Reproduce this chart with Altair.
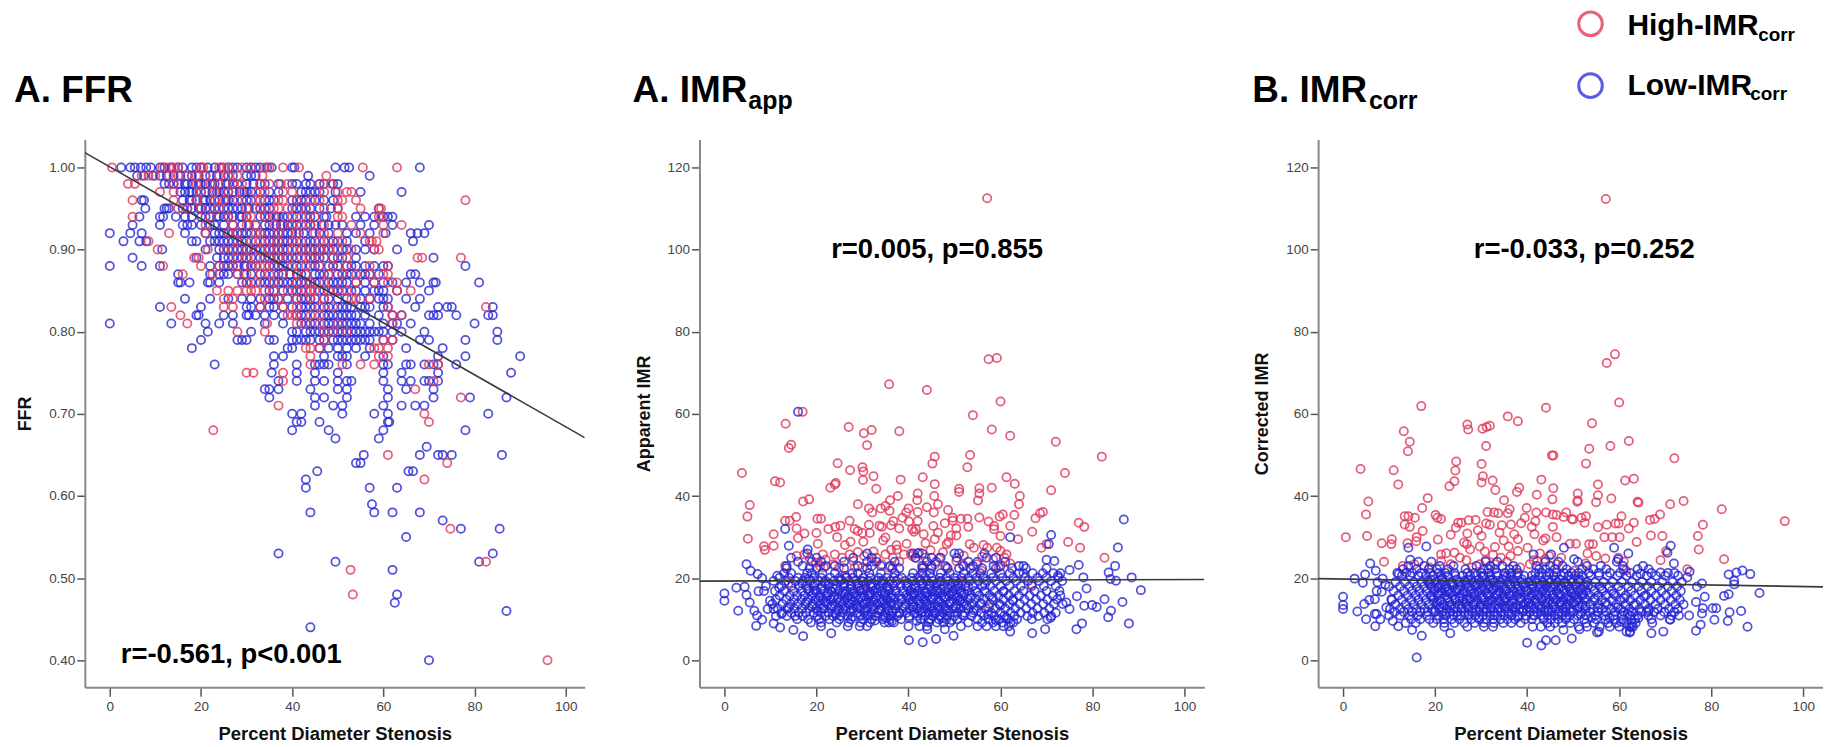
import altair as alt
import pandas as pd

RED = "#e0385a"
BLUE = "#2626d4"
FONT = "Liberation Sans"

# FFR panel: {FFR value: [percent diameter stenosis, ...]}
ffr_low = {
1.00:[2.5,4.5,5.5,6.8,8,9,11,12,13.5,15,16,18,19,20,21.5,23,24.5,26,27,28,30,31,32,33,34.5,35.5,40,40.5,49.5,51.5,52.5,68],
.99:[6,7.5,9.5,11,12.5,14,15.5,17,18,19.5,21,22,23.5,25,26,27,30,31,32,43.5,57],
.98:[12,13,15,16.5,18,19.5,21,22.5,24,25.5,27,28,30,31.5,33,34,37,40,41,43,44,46,47,49,50,14,17,20,23,26],
.97:[15.5,16.5,18,19,21,22.5,24,25,27,28.5,30,33,35,37,42,44,45,46,49.5,55,64,17.5,20,23.5,26,29.5,31,43],
.96:[7,7.5,16,17.5,19,20.5,22,24,25.5,27,29,31,34,36,40,41,43,45,47,49,18,21,23,26,30,35,42],
.95:[7.8,12,12.5,13,16,18,19.5,21,23,25,27,29,30.5,32,34,35,40,41,42,44,46,48.5,50,59,17,20,22,24,26,28,33,43],
.94:[6.5,11,11.7,14.5,16.5,18,20,21,22,23.5,25,27,28.5,30,33,35,36.5,38,41,43,45,47,47.5,54,56,58,60,61,62,24,26,29,34,37,39,44],
.93:[5,11,16,18,20,23,25,29,32,35,36.5,38,39,41,43,45,48,49.5,51,55,58,62,70,17,22,27,30.5,34,37.5,40,44,46.5],
.92:[0,4.5,7,16.5,21,23,25,27,28,30,31,34,36,38,40,42.5,44.5,46,48,52,54,57,60.5,66,67.5,69,24,26,29,33,35,37,39,41.5],
.91:[3,6.5,8,18,19,22,24,26,28,30,32,36,38,40,43,45,49,50,52,56,66.5,23,25,27,29,34,35,37,39,41,44,47],
.90:[11.5,21,24,26,28,30,32,34,36,38,41,43,45,47,49,51,52,54,56,58,63,25,27,29,31,33,35,37,39,42,44,46,48],
.89:[5,19,23.5,25,27,29,31,33,35,37,39,41,43,45,47,49,51,54,71,26,28,30,34,36,38,40,44,46,50],
.88:[0,7,11,22,24,26,28,29.5,31,35,37,39,42,44,46,48,50,52,54,56,58,60,61,78,25,27,30,32,36,38,41,45,49,53],
.87:[15,22,24,26,28,31,33,36,38,41,43,46,48,50,52,55,57,59,66,67,25,29.5,34,37,39.5,42,45,47,51,53,56],
.86:[15,15.5,17.5,21.5,22,24,29,31,33,34,36,38,40,42,44,46,48,50,52,54,56,58,60,62,65,68,71,71.5,81,30,35,37,39,41,43,45,49,51],
.85:[35,40,41,44,46,49,50,54,58,60,63,70,36,38,42,47,51,53,56,59],
.84:[16.5,22,26,29,31,33,35,37,39,41,43,45,47,50,59,60,61,65,68,36,42,44,48,52,55,57],
.83:[11,20,30,31,33,35,40,42,44,45,48,50,52,55,57,60,61,67,72,74,75,84,36,38,43,47,51,53,56],
.82:[19,19.5,25,27,30,30.5,32,34,36,38,42,43,48,50,52,54,56,59,62,64,70,71,72,76,83,84,41,45,47,49,51,53],
.81:[0,13.5,21,24,27,34,38,42,44,47,49,51,53,55,57,60,62,63,66,80,43,45,48,50,52,54],
.80:[21.5,31,40,44,46,48,50,51,52,53,54,55,56,57,58,59,60,62,64,69,85,41,43,45,47,49],
.79:[20,28,29,30,35,36,40,42,44,46,49,51,53,55,57,60,62,68,70,78,85,41,43,47,50,52,54,56],
.78:[18,39,40,46,48,50,52,54,57,65,73],
.77:[36,38,47,50,51,52,56,60,72,78,90],
.76:[23,36,41,45,46,47,48,52,60,61,65,66,69,71,72,76],
.75:[35.5,41,45,50,60,64,72,88],
.74:[37,41,45,47,50,52,53,60,64,66,69,70,72],
.73:[34,35,37,44,50,52,61,65,71],
.72:[35,45,47,52,61,71,79,87],
.71:[45,49,51,60,64,67,69],
.70:[40,42,51,58,61,83],
.69:[41,42,46,61,61.3],
.68:[40,48,60,78],
.67:[49.5,59],
.66:[69.5],
.65:[55.7,68,72,73,75,86],
.64:[54,55],
.63:[45.5,65.5,66.5],
.62:[43],
.61:[43,57,63],
.59:[57.5],
.58:[44,58,62,68],
.57:[73],
.56:[77,85.5],
.55:[65],
.53:[37,84],
.52:[49.5,81],
.51:[62],
.48:[63],
.47:[62.5],
.46:[87],
.44:[44],
.40:[70],
}
ffr_high = {
1.00:[0.5,11.5,13,14,15,20,20.5,24,25,26,29,31,34,35,38,41.5,55.5,63],
.99:[7,8.5,10,13,17,21,24,26,33.5,47.5,15,19,28],
.98:[4,5.5,14,19,24,29,33,37.5,39,46,48.5,22,27,35],
.97:[11,14,20,26,29,32,38,50,52,53,23,34,40,47],
.96:[5,14,23,28,32,33,37,38,44,50,51,54,78,19,25,41,46],
.95:[15,17,20,30,36,37,50,55,59,59.5,24,33,39,43,47],
.94:[5,22,26,30,36,40,42,50,51,59,59.5,31,34,45],
.93:[21,27,30,40,42,60,64,32,36,38,44,47,53],
.92:[13,21,26,32,33,41,50,55,60,28,37,45,47],
.91:[8.5,31,33,37,46,57,57.5,58.5,28,35,40,42,48,51],
.90:[10.5,21.5,25,27,30,33,37,40,42,44,46,50,58,59,35,48,53],
.89:[18.5,19.5,28,32,37,42,46,67.5,68.5,77,30,35,39,44,49,52],
.88:[11.7,20,24,27,33,34,40,43,49,31,36,46,52,57,61],
.87:[16,22.5,28,33,35,43,48,54,60,61,30,38,41,51,57],
.86:[32,36,44,47,61,63,30,41,54,58],
.85:[23.5,26,28,30,31,32,34,39,43,44,45,50,52,63,66,36,41,48],
.84:[25,27,34,41,53,54,57,37,44,47],
.83:[13.5,25,27,33,41,82.5,38,46,49,61],
.82:[15.5,39,40,41,62,64,44,46],
.81:[17,34.5,41,43,62,46,50],
.80:[28,34,47,49,52],
.79:[60,62,47],
.78:[43,44,46,58,59,61],
.77:[44,59,61],
.76:[44,51,55,58,70,72],
.75:[30,31.5,38],
.74:[38,71],
.73:[67],
.72:[77],
.71:[37],
.70:[69],
.69:[70],
.68:[22.7],
.65:[61],
.64:[74],
.62:[69],
.56:[74.7],
.52:[82.5],
.51:[52.8],
.48:[53.3],
.40:[96],
}

# Apparent IMR panel
app_high = [(57.1,112.5),(57.4,73.3),(59.2,73.6),(35.8,67.2),(44,65.8),(60,63),(54,59.7),(17,60.5),(13.3,57.6),(27,56.8),(30.3,55.3),(32,56.1),(38,55.8),(58.1,56.2),(62.1,54.7),(72,53.2),(14.5,52.5),(14,51.7),(31,52.4),
(45.7,49.6),(53.4,50),(82,49.6),(24.6,48),(45.2,47.9),(52.8,47),(30,47),(27.3,46.3),(30.2,46),(3.8,45.6),(74,45.6),(43.1,44.6),(32.4,44.8),(61.3,44.6),(11,43.6),(12.1,43.3),(38.3,44),(30.1,43.9),(24.2,43.2),(24,42.8),(45.7,42.9),(63.1,43),(23,42),(33,41.8),(51,41.8),(51,41),(55.4,41.9),(55.4,40.6),(58.1,42),(71,41.4),(42,40.6),(37.7,40),(45.6,40),(64.2,40),(18.4,39.2),(17.1,38.7),(55.1,38.9),(36,39),(41.9,39),(5.5,37.8),(29,38),(64,38),(35,37.6),(46.4,38),(34,37),(31.4,37),(40,37),(44,37.3),(48.6,36.6),(32.1,36),(35.9,36.4),(39.5,36),(42,36.1),(45.5,36),(69.2,36.1),(68.6,35.8),(60.5,35.5),(59.8,35),(63,35.4),(67.6,34.6),(5,35),(15.6,34.9),(20.2,34.5),(21,34.5),(13.2,34),(14.2,34),(27.2,34),(36.7,33.9),(38.7,34.7),(49.6,34.7),(51.4,34.5),(52.8,34.5),(55.4,34.8),(57.4,33.8),(40.1,33.8),(42,33.9),(45.4,32.7),(47.9,33.4),(49.6,34),(62.1,32.7),(77,33.5),(78.2,32.5),(25.2,32.8),(24.1,32.5),(22.6,32),(15.7,32.1),(28.3,32),(31.4,33),(33.7,32.8),(34.2,32.5),(36.2,32.9),(38,32.1),(50.4,32.1),(53,32.5),(58.6,32.7),(58.6,31.9),(20,31),(17.4,30.9),(10.7,30.7),(29,31.5),(30,31),(31.6,31),(40.8,31.9),(41.6,31.9),(41.2,31.3),(43.3,30.7),(46.4,31.1),(49.2,30.4),(50.4,30.4),(60,30.3),(66.9,31.3),(5.1,29.6),(16,29.8),(24.5,30),(35,29.9),(34.5,29.2),(45.7,29.5),(63.8,29.5),(74.7,28.8),(48.7,28.8),(30.2,28.9),(27.4,28.9),(20.3,28.4),(39.6,28.4),(43.7,28.5),(10.7,27.9),(8.6,27.8),(8.8,26.9),(68.9,27.4),(77.3,27.4),(26.2,28.1),(36.2,26.9),(32.4,26.5),(37.5,27),(53.3,28.3),(56.3,28.1),(59.2,27.4),(60,26.6),(61.3,25.8),(82.6,25),(21.4,25.8),(24,25.8),(17.4,25.8),(40.8,25.4),(41.6,25),(39,25.8),(43.7,25),(62.1,23.6),(13.2,23),(15.7,25.4),(23.7,23.4),(30,22.6),(34.2,23.4),(43.3,22.6),(51.7,23.4),(55.9,21.8),(21.6,22.6),(26.2,20.6),(66.7,18.5),(14,18.9),(23.2,14.9),(30,17),(31.2,15.9),(32.9,10.9),(41.2,16.1),(57.5,12.9),(51.7,18.9),(37.9,19.8),(26.6,20.2),(43,21.4),(70,28.3),
(28,24.2),(27.2,25.8),(30.4,25.4),(33,25),(36.6,25),(46.7,25),(48.3,28.3),(50.4,24.2),(54.2,27.4),(57.1,27.4),(19.9,23.8),(24.9,22.6),(28.3,22.6),(35.8,22.6),(42.3,26.2),(45.8,23.4),(48.3,22.6),(54.8,23.4),(58.4,24.6),(60.9,25),(59.6,22.6),(22,24.5),(25.6,25),(29,26.4),(38,24),(40.5,26),(44.8,26.8),(47.5,26.3),(52,25.5),(56,25.2),(32,24),(35,25.8),(37.4,28),(18.6,24.8),(20.8,22.9)]
app_low_sparse = [(16,60.5),(86.8,34.3),(85.5,27.5),(71,30.5),(62.1,30),(70.5,28.3),(13.2,32),(14,27.9),(18.1,27),(84.9,23),(77,23.2),(70,24.5),(71.7,24.2),(75,22),(83.5,21.4),(83.9,19.8),(85.1,19.4),(88.5,20.2),(90.5,17.1),(82.6,14.9),(86.5,14.2),(84,12.1),(83.4,10.5),(87.9,9),(76.6,15.6),(78.7,17.5),(78.2,13.3),(79.9,13.5),(80.9,13),(74.3,14.1),(75,12.5),(77.7,9),(76.5,7.6),(70.9,10.4),(69.7,7.6),(66.9,6.6),(62.1,7),(78,20.2),(72.5,20.6),
(4.8,23.4),(5.7,21.8),(7.2,21),(8.2,20),(2.6,17.7),(0,16.3),(0,14.5),(4.4,17.9),(4.8,15.9),(7.4,16.8),(8.6,16.9),(5.5,14.1),(3,12.1),(6.5,12.1),(7.1,10.9),(6.9,8.4),(8.2,9.9),(9.4,12.5),(10.7,9),(12.1,8),(15,7.4),(17.1,5.9),(23.2,6.6),(40.1,4.9),(43.1,4.4),(46,5.2),(49.8,6),(47.9,7.6),(44.1,7.6),(11.5,20.6),(11.9,17.7),(9.9,14.5),(10.7,12.5),(12.4,11.3),(14,12.9)]
app_low_extra = [(18.3,19.9),(19.6,17.1),(20.4,14.6),(21.1,12.7),(21.8,18.9),(22.3,15.6),(23.4,13.4),(23.6,17.6),(24.2,11.2),(24.7,15.1),(25.4,19.6),(25.8,12.3),(26.2,16.2),(26.9,14),(27.6,18.4),(27.8,10.6),(28.4,15.4),(28.8,12.9),(29.5,17),(30.1,19.2),(30.4,13.7),(30.9,11),(31.4,15.7),(31.8,18),(32.3,14.2),(32.7,9.7),(33.3,16.5),(33.6,12.3),(34.1,19.4),(34.6,14.7),(35,10.3),(35.4,17.8),(35.7,12),(36.1,15.2),(36.4,9.5),(36.9,13.4),(37.3,17),(38,11.4),(38.4,15),(39.1,13),(39.6,18),(40.1,10.4),(40.6,15.8),(41,12.9),(41.4,17.6),(41.8,9.6),(42.2,14.6),(42.7,19.4),(43.1,11.8),(43.6,16.4),(44,13.2),(44.4,9.9),(44.8,18.3),(45.2,14.9),(45.6,11.5),(46,16.9),(46.4,13.1),(46.8,19.1),(47.2,10.3),(47.7,15.4),(48.1,12.3),(48.6,17.7),(49,14),(49.4,9.8),(49.9,16),(50.3,12.7),(50.8,18.6),(51.2,14.5),(51.7,11.1),(52.1,16.3),(52.6,13.4),(53,18),(53.5,15.1),(54.2,12.2),(55,16.6),(55.8,13.9),(56.6,18.4),(57.3,11.2),(58.2,15.3),(59,9.8),(60,13.4),(60.6,16.7),(61.3,10.4),(62.2,9.2),(62.7,14.5)]
app_low = {
26:[18,31,41,42,43,50,51,56.5],
25:[14.5,20,28,32,41.5,45,47,50.5,57,59],
24:[16,19,21,26,31,33,37,44,46,53,55,61],
23:[13.5,17,22,24,29,32,34,36,43,45,48,52,54,58.5,60,64,65],
22.4:[13.5,18.5,20,26,31,36.5,38,43,45,48.5,51,53.5,56,59,62.5,65.5,70],
21.2:[13,14.5,18,19,21.3,24,27.8,29,31.5,34,37,41,43,44.7,47,49,52,54,55.6,58,60,62,64,65,67,69.2,71.5,73],
20.1:[12,14,16,17.5,19.5,21,23,25,26.4,28,30.2,31.8,33.5,35.2,36.8,38.5,40.7,42,43.6,45,46.8,48.2,50,51.5,53,54.8,56.2,58.3,60.4,62.8,65.3,68,70,72.6],
19.3:[10.7,13.3,15.4,17,18.6,20.3,22,23.8,25.2,27,28.6,29.8,31.2,33,34.6,36,37.4,39.2,41,42.4,44,45.3,47,48.6,50.3,51.6,53.3,55.2,57,59,61.2,63.4,66,68.4,71,73.4],
18.7:[16.9,19.7,22.7,26.1,28.9,31.9,34.3,39.9,43.1,46.3,49.7],
18.1:[9,12.4,14.6,16.2,17.8,19.4,21.2,22.6,24.4,26,27.5,29.2,30.6,32.2,33.8,35.3,36.8,38.2,39.8,41.5,43,44.5,46,47.7,49.2,50.8,52.4,54,56,57.8,60,62,64.4,66.8,69.4,72],
17.4:[18.1,21,24.1,27.3,30.3,33.1,35.9,40.7,44.1,47.1,50.1],
16.9:[11,13,15,16.8,18.4,20,21.6,23.2,24.8,26.4,28,29.4,31,32.6,34,35.6,37.2,38.8,40.4,42,43.4,45,46.4,48,49.6,51.2,52.8,54.6,56.6,58.6,60.7,63,65,67.4,70,72.8],
16.4:[19.3,22.5,25.9,28.3,31.7,34.9,41.3,43.9,46.9,49.3,51.5],
15.8:[12,14.2,15.8,17.4,19,20.7,22.2,23.9,25.5,27,28.7,30.3,31.7,33.2,34.8,36.4,38,39.5,41.1,42.7,44.2,45.7,47.2,48.8,50.4,51.9,53.6,55.4,57.6,59.6,61.8,64,66.3,68.8,71.4,73],
15.3:[20.9,23.7,26.7,29.7,32.9,35.1,39.9,42.9,45.3,47.9,50.9],
14.8:[11.2,13.4,15.2,16.7,18.2,19.8,21.4,23,24.6,26.2,27.7,29.2,30.8,32.4,33.9,35.4,37,38.6,40.2,41.8,43.4,44.9,46.5,48.1,49.6,51.2,52.9,54.5,56.4,58.4,60.6,62.7,65.2,67.7,70.2,72.3],
14.2:[17.9,21.9,25.1,28.1,31.1,34.3,36.1,40.9,43.7,46.7,49.1,51.7],
13.7:[10.4,12.6,14.4,16,17.6,19.2,20.8,22.4,24,25.6,27.2,28.6,30.1,31.6,33.2,34.8,36.3,37.8,39.4,41,42.6,44.1,45.7,47.3,48.9,50.5,52.1,53.8,55.6,57.6,59.7,62,64.2,66.7,69.3,71.6,73.5],
13.1:[19.1,23.1,26.1,29.1,32.1,35.3,41.1,44.7,47.7,50.3],
12.6:[11.6,13.6,15.2,16.9,18.4,20,21.6,23.2,24.8,26.4,28,29.5,31,32.5,34.1,35.6,37.2,38.7,40.3,41.9,43.5,45,46.6,48.1,49.7,51.3,53,54.8,56.8,58.9,61,63.2,65.6,68,70.6],
12.1:[20.3,24.5,27.5,30.7,33.7,36.5,42.3,45.5,48.5],
11.6:[12.5,14.5,16.2,17.7,19.4,21,22.6,24.2,25.7,27.3,28.9,30.4,31.9,33.4,35,36.5,38.1,39.6,41.2,42.8,44.4,46,47.5,49,50.6,52.2,54,55.8,58,60,62.2,64.4,67,69.5,72],
10.8:[11.2,13.6,15.4,17,20.2,22,23.6,25.2,26.8,29.6,31.2,33,34.6,36.2,37.6,40.2,42,43.6,45.2,46.8,48.4,50,52,53.7,56.4,58.6,60.8,63,65.8,68.2,71],
10:[15.8,18.2,20.6,22.8,25,27.5,30,32,34.4,36,38.4,42.6,44.8,46.6,48.2,50.6,55,57.4,59.6,61.6,63.6,66.8,70.2],
9.2:[18.8,21,24.4,27,29.6,31.6,34.8,35.8,36.8,44.4,46.2,47.6,49,53,56,58.4,60.4,62.8],
8.3:[21,26.8,29.4,31,40,42.4,44,51.4,55,57,59,60.6,61.8],
}

# Corrected IMR panel
corr_high = [(57.1,112.3),(57.3,72.4),(59.1,74.5),(17,61.9),(44.1,61.5),(60,62.8),(35.8,59.4),(38,58.2),(54.1,57.7),(27,57.4),(27.2,56.2),(30.3,56.4),(31.2,56.8),(31.9,57.1),(13.2,55.8),(14.5,53.2),(14.1,50.9),(62.1,53.4),(58.1,52.2),(53.5,51.5),(31.1,52.2),(72,49.2),(45.4,49.9),(45.7,49.9),(24.6,48.4),(30.1,47.8),(52.8,47.9),(3.8,46.6),(11,46.3),(24.4,46.2),(30.4,44.8),(43.1,44),(32.5,43.8),(63.2,44.2),(61.3,43.8),(30.1,43.3),(24.2,43.6),(23.1,42.4),(12,42.8),(55.4,42.8),(45.7,41.9),(38.3,42),(33.1,41.5),(37.8,41),(42.1,40.3),(51,40.6),(55.4,40.2),(58.3,39.4),(18.4,39.5),(45.5,39.2),(35,39),(51,38.9),(50.9,38.6),(55,38.5),(64,38.6),(64.2,38.4),(5.5,38.7),(74,38.8),(71.1,38),(82.3,36.8),(17.2,37.1),(39.9,37.1),(36.2,36.8),(31.4,36.1),(32.8,36),(33.7,35.8),(35.8,35.8),(42,36),(44.1,36),(45.6,35.5),(46.4,35.4),(48.5,36),(5,35.5),(13.4,35.1),(14.2,35.1),(15.6,34.7),(20.1,35.4),(20.5,34.7),(21.3,34.4),(27.3,34.1),(28.8,34.2),(39.5,34.7),(47.9,34.9),(49.7,34.4),(50,34.3),(51.8,34.7),(52.8,35.1),(60.5,35.1),(63.2,33.5),(66.7,34.2),(67.7,34.4),(68.9,35.5),(96,33.9),(78.2,33),(52.5,33.5),(59.2,33.3),(59.9,33.3),(57.3,33),(55.4,32.4),(62.1,32.1),(13.4,33.1),(14.5,32.5),(24.5,32.3),(25,33.5),(25.7,33.5),(31.1,33.3),(31.9,33),(34.5,32.9),(36.5,33.1),(38.7,33.4),(41,32.5),(41.8,33.9),(45.6,32.5),(17.3,31.5),(23.4,30.6),(27,30.9),(29.3,31.7),(34,31.1),(37.2,30.7),(41.6,30.7),(0.6,30),(5.2,30.3),(66.9,30.4),(69.4,30.3),(77.1,30.3),(56.8,30),(58.5,30),(60.1,30),(16,30),(30.1,30.3),(46.4,30),(10.6,29.5),(15.9,29),(20.6,29.4),(26.3,28.7),(34.9,29.2),(38,29.5),(43.5,29.2),(44,29.7),(8.4,28.5),(10.5,28.3),(14,28.5),(63.8,28.8),(49.3,28.4),(50.6,28.4),(53.5,28.3),(54.3,28.3),(26.9,28.3),(33,27.6),(36,27.7),(77.3,27),(27.6,27),(29.7,27.7),(40.1,27.4),(70.2,26.6),(21.3,25.8),(24.2,26.2),(32.6,25.7),(53.1,26),(59.8,25),(82.8,24.6),(69,24.4),(8.9,24),(15.5,23.4),(13,23),(26.8,24.4),(34.3,25),(41.4,24.4),(43.9,24.6),(46.4,23.4),(52.7,23.6),(23.4,23.4),(29.7,23.4),(38.5,22.6),(50.2,21.8),(61.5,21.9),(74.8,22.2),(18.8,22.6),(21.3,24.2),(28,22.6),(33,23.4),(40.6,23.4),(42.2,24.2),(22.4,26.1),(25.4,25),(30.8,26.5),(36.4,25.4),(38,26.6),(42.8,26),(44.8,25.4),(47.4,25),(55,25.4),(57,24.8),(61,24),(31,24.4),(35.6,24)]
corr_low_sparse = [(16,0.7),(5.9,23.6),(4.8,20.9),(7.1,21.8),(2.5,19.9),(4.3,18.9),(8.6,19.9),(7.5,19),(9.2,18.4),(7.3,16.9),(8.4,16.7),(0,15.5),(0,13.5),(0,12.5),(4.6,13.7),(5.7,14.7),(6.9,14.9),(3.1,11.9),(9.4,12.9),(10.5,14.9),(6.9,11.3),(7.3,11.3),(5,10),(8.1,10),(7,8.3),(10.8,9.6),(12,8.3),(15,7.4),(17.1,6),(23.3,6.6),(40,4.3),(43.1,3.6),(44.1,4.9),(46.2,4.9),(49.7,5.3),(47.9,7.4),(51.4,7.6),(55.2,6.8),(62.3,6.8),(67,6.6),(69.6,7),(76.7,7.2),(77.7,8.7),(87.9,8.2),(83.6,9.6),(80.7,9.9),(84,11.7),(86.5,12),(75.2,10.9),(71.1,9.9),(78,11.4),(80.3,12.7),(81.1,12.7),(78.2,12.7),(76.7,14.2),(78.6,15.5),(82.8,15.7),(83.8,16.1),(90.5,16.4),(76.9,17.9),(78,18.7),(85,18.5),(85,19.4),(83.8,20.9),(85.5,21.4),(86.8,21.9),(88.5,21),(74.8,20.2),(75.3,21.6),(71.2,27.9),(70.5,26.2),(71.9,23.6),(69,21.4),(62,26),(58.9,27.4),(59.8,24.6),(18.1,27.7),(14.6,24.5),(14.2,27.4),(64,22.2),(64.6,21.1),(48,27.4),(50.2,24.6),(45.2,25.8),(41.4,25.8),(12.1,21),(13.8,21.4)]
corr_low_extra = [(18.4,19.4),(19.2,15.6),(19.8,12.1),(20.5,17.7),(21,14.4),(21.6,20.1),(22.1,11.4),(22.6,16.7),(23.2,13.3),(23.7,18.9),(24.3,15),(24.8,10.8),(25.3,17.2),(25.8,12.9),(26.4,19.4),(26.9,14.8),(27.4,11.2),(27.9,16.2),(28.4,13.6),(28.9,18.3),(29.5,10.4),(30,15.1),(30.5,20.4),(31,12.4),(31.5,17.4),(32,14.5),(32.5,19.6),(33,10.9),(33.5,16),(34,12.9),(34.5,18.2),(35,14.3),(35.5,20.3),(36,11.3),(36.5,15.7),(37,13),(37.5,18.6),(38,10.6),(38.6,15.2),(39.2,12.2),(39.8,17.1),(40.4,14),(41,19.3),(41.6,11),(42.1,15.9),(42.6,13.2),(43.1,18.4),(43.6,10.4),(44.1,15),(44.6,12.1),(45.1,17.8),(45.6,14.2),(46.1,19.6),(46.6,11.2),(47.1,16.1),(47.6,13.4),(48.1,18.8),(48.6,10.3),(49.1,14.9),(49.6,12.1),(50.1,17.3),(50.6,14.3),(51.1,19.7),(51.6,11.2),(52.1,15.9),(52.7,13.2),(53.2,18.2),(54,10.4),(54.7,15.1),(55.4,12.7),(56.2,17.4),(57,14.1),(57.9,10.4),(58.8,16.2),(59.7,12.9),(60.4,9.4),(61.1,15.1),(61.9,11.3),(62.6,8.1),(63.2,13.4),(64.2,10.3),(65.4,15.6),(66.4,12.1)]
corr_low = {
24:[16.4,19.2,31,33.5,44,46.8,51,59.5],
23:[14.2,17.6,21,24,29,32,34.6,37,42,45,47.7,53,56,60.8,65.2],
22.2:[13,16,18.6,20.4,22.8,26.6,30.6,31.6,33,36.2,37.7,42.6,44,46,48.6,52,54.4,57.2,61,66.4],
21.3:[11.8,15,17,19,20.8,22.2,24.2,27,28.6,30,31.6,33.4,35.2,36.6,38,41.8,43.2,44.8,46.4,48,49.6,51.2,53.4,55.6,58,60.2,62.4,67,70.6,72],
20.6:[12.8,14.6,16.4,18,19.6,21.2,22.8,24.4,26,27.6,29,30.4,32,33.4,35,36.4,37.8,39.4,41,42.6,44.2,45.8,47.4,49,50.4,52,53.8,55.6,57.4,59.6,61.6,63.8,66,68,70,72.8],
19.7:[19.1,21.5,24.7,27.1,29.5,31.9,34.7,36.9,38.9,41.7,44.7,47.1,49.5,51.5],
19.1:[11.4,13.4,15.4,17,18.6,20.2,21.8,23.4,25,26.6,28.2,29.8,31.2,32.8,34.2,35.8,37.2,38.8,40.4,42,43.4,45,46.6,48.2,49.8,51.4,53,54.8,56.6,58.6,60.6,62.8,65,67,69.4,71.6,73.6],
18.5:[18.9,21.3,23.9,26.9,29.3,31.5,33.9,36.3,39.1,41.1,43.9,46.1,48.7,50.7,52.7],
18:[10,12.4,14.4,16,17.6,19.2,20.8,22.4,24,25.6,27.2,28.8,30.3,31.8,33.4,35,36.5,38,39.6,41.2,42.8,44.2,45.8,47.4,49,50.6,52.2,54,55.8,57.8,59.8,62,64.2,66.2,68.4,70.6,72.6],
17.4:[19.9,22.1,24.9,27.9,30.1,32.7,35.3,37.9,40.9,43.7,46.9,49.3,51.7],
16.9:[11,13.2,15,16.6,18.2,19.8,21.4,23,24.6,26.2,27.8,29.4,30.8,32.4,34,35.4,37,38.6,40.2,41.7,43.3,44.8,46.4,48,49.5,51.1,52.8,54.6,56.4,58.4,60.4,62.6,64.8,67,69.2,71.4,73.4],
16.3:[20.7,23.3,25.9,28.5,31.3,33.5,36.1,38.3,41.3,44.1,46.7,49.7,52.1],
15.8:[12,14,15.8,17.4,19,20.6,22.2,23.8,25.4,27,28.6,30,31.6,33.2,34.8,36.2,37.8,39.4,41,42.5,44,45.6,47.2,48.8,50.3,51.9,53.6,55.4,57.2,59.2,61.4,63.4,65.8,68,70.2,72.4],
15.2:[19.7,22.7,25.3,27.7,30.5,32.9,35.5,38.5,40.5,43.1,45.9,48.5,50.9,52.5],
14.7:[10.6,12.8,14.8,16.4,18,19.6,21.2,22.8,24.4,26,27.6,29.2,30.7,32.3,33.8,35.4,37,38.5,40.1,41.7,43.2,44.8,46.3,47.9,49.5,51,52.8,54.6,56.3,58.4,60.3,62.4,64.6,66.8,69,71.2,73.2],
14.1:[20.5,23.1,26.5,28.9,31.7,34.1,36.7,39.7,42.1,44.5,47.5,50.1],
13.6:[11.4,13.6,15.4,17,18.7,20.3,21.9,23.5,25.1,26.7,28.3,29.9,31.4,33,34.6,36.1,37.7,39.2,40.8,42.4,44,45.5,47.1,48.6,50.2,51.9,53.7,55.5,57.4,59.4,61.4,63.6,65.6,67.9,70,72.2,74],
13:[21.1,24.3,27.1,29.7,32.1,35.1,37.5,40.3,43.1,45.7,48.3,51.3],
12.5:[10.2,12.4,14.2,16,17.7,19.3,20.9,22.5,24.1,25.7,27.3,28.9,30.5,32,33.6,35.2,36.8,38.3,39.9,41.5,43,44.6,46.2,47.8,49.3,50.9,52.6,54.4,56.3,58.3,60.3,62.2,64.4,66.4,68.4,70.8,72.8],
11.8:[11.2,13.2,15,16.8,18.4,20,21.6,23.2,24.8,26.4,28,29.6,31.2,32.8,34.3,35.9,37.4,39,40.6,42.2,43.8,45.3,46.9,48.4,50,51.8,53.6,55.4,57.2,59.1,61,62.8,64.8,66,67.6,69.8,72],
10.9:[10,12.4,14.4,16.2,18.2,20.8,22.4,24,25.6,27.2,28.7,30.4,32,33.5,35.1,36.6,38.2,39.8,41.4,43,44.5,46,47.6,49.2,51,52.8,54.8,56.8,58.8,60.6,62.4,64,66.4,69,71.4,73],
10:[14.8,16.8,18.8,20.4,21.8,23.6,25.3,27.8,29.6,31.1,32.6,34.2,35.7,37.4,39.6,41,43.6,45.2,46.7,48.4,50.2,52.4,55,57,59,60.8,62.6,63.4,67,71],
9.1:[13.6,15.8,19.6,22,24.2,26.4,28.6,30.6,32.8,34.8,36.6,38.6,44.4,46,47.6,49.4,52.8,54.6,57.6,59.4,61.6,62.8,63.6,67.2],
8.2:[22,27,30.6,32.6,41.2,43,45,51.2,53,55.8,58,60,62.2,63],
7:[55.6,61.6,62.4],
}

tick_x = [0,20,40,60,80,100]
ffr_ticks = [.4,.5,.6,.7,.8,.9,1.0]
imr_ticks = [0,20,40,60,80,100,120]

ffr_fit_x, ffr_fit_y = [-5.47,104.16], [1.018,0.671]
app_fit_x, app_fit_y = [-5.42,104.3], [19.3,19.7]
corr_fit_x, corr_fit_y = [-5.42,104.3], [19.9,17.9]


def from_rows(rows):
    return pd.DataFrame([{"x": x, "y": y} for y, xs in rows.items() for x in xs])


def from_pairs(pairs):
    return pd.DataFrame([{"x": a, "y": b} for a, b in pairs])


def label(text, px, py, size, color="black"):
    return alt.Chart(pd.DataFrame({"t": [text]})).mark_text(
        align="left", baseline="alphabetic", font=FONT, fontWeight="bold",
        fontSize=size, color=color,
    ).encode(text="t:N", x=alt.value(px), y=alt.value(py))


def panel(high, low, fit_x, fit_y, xdom, ydom, yticks, yfmt, ytitle, w, notes, high_on_top=False):
    x = alt.X("x:Q", title="Percent Diameter Stenosis",
              scale=alt.Scale(domain=xdom, nice=False, zero=False),
              axis=alt.Axis(values=tick_x, format="d", grid=False, tickSize=9, labelPadding=3,
                            titlePadding=12, titleFontSize=18.5, titleFont=FONT, titleFontWeight="bold",
                            titleColor="#111", labelFont=FONT, labelFontSize=13.5, labelColor="#444",
                            domainColor="#888", domainWidth=2, tickColor="#555", tickWidth=1.5))
    y = alt.Y("y:Q", title=ytitle,
              scale=alt.Scale(domain=ydom, nice=False, zero=False),
              axis=alt.Axis(values=yticks, format=yfmt, grid=False, tickSize=8, labelPadding=2,
                            titlePadding=14, titleFontSize=18, titleFont=FONT, titleFontWeight="bold",
                            titleColor="#111", labelFont=FONT, labelFontSize=13.5, labelColor="#444",
                            domainColor="#888", domainWidth=2, tickColor="#555", tickWidth=1.5))
    pts = dict(shape="circle", filled=False, size=68, strokeWidth=1.75, opacity=0.8, clip=True)
    red = alt.Chart(high).mark_point(color=RED, **pts).encode(x=x, y=y)
    blue = alt.Chart(low).mark_point(color=BLUE, **pts).encode(x=x, y=y)
    layers = [blue, red] if high_on_top else [red, blue]
    layers.append(alt.Chart(pd.DataFrame({"x": fit_x, "y": fit_y})).mark_line(color="#3a3a3a", strokeWidth=1.6, clip=True).encode(x=x, y=y))
    return alt.layer(*layers, *notes).properties(width=w, height=549)


p1 = panel(from_rows(ffr_high), from_rows(ffr_low), ffr_fit_x, ffr_fit_y,
           [-5.47,104.16], [0.367,1.034], ffr_ticks, ".2f", "FFR", 501,
           [label("A. FFR", -71, -38, 37), label("r=-0.561, p<0.001", 36, 525, 27.5)], high_on_top=True)
p2 = panel(from_pairs(app_high), pd.concat([from_pairs(app_low_sparse), from_pairs(app_low_extra), from_rows(app_low)]), app_fit_x, app_fit_y,
           [-5.42,104.3], [-6.56,126.8], imr_ticks, "d", "Apparent IMR", 506,
           [label("A. IMR", -67, -38, 37), label("app", 49, -31, 25), label("r=0.005, p=0.855", 132, 119, 27.5)])

legend_ring = alt.Chart(pd.DataFrame({"k": ["High-IMR", "Low-IMR"]}))
ring1 = legend_ring.transform_filter("datum.k=='High-IMR'").mark_point(shape="circle", filled=False, size=560, strokeWidth=3, color="#e8506e", opacity=0.9).encode(x=alt.value(273), y=alt.value(-116))
ring2 = legend_ring.transform_filter("datum.k=='Low-IMR'").mark_point(shape="circle", filled=False, size=560, strokeWidth=3, color="#4a4ae6", opacity=0.9).encode(x=alt.value(273), y=alt.value(-54))

p3 = panel(from_pairs(corr_high), pd.concat([from_pairs(corr_low_sparse), from_pairs(corr_low_extra), from_rows(corr_low)]), corr_fit_x, corr_fit_y,
           [-5.42,104.3], [-6.56,126.8], imr_ticks, "d", "Corrected IMR", 506,
           [label("B. IMR", -66, -38, 37), label("corr", 51, -31, 25), label("r=-0.033, p=0.252", 156, 119, 27.5),
            ring1, ring2,
            label("High-IMR", 310, -105, 30), label("corr", 441, -99, 19),
            label("Low-IMR", 310, -45, 30), label("corr", 433, -40, 19)])

chart = alt.hconcat(p1, p2, p3, spacing=48).resolve_scale(x="independent", y="independent").properties(
    padding={"left": 6, "top": -3, "right": 0, "bottom": 0}, background="white"
).configure_view(stroke=None)

chart.save("out.html", embed_options={"renderer": "svg", "actions": False})
